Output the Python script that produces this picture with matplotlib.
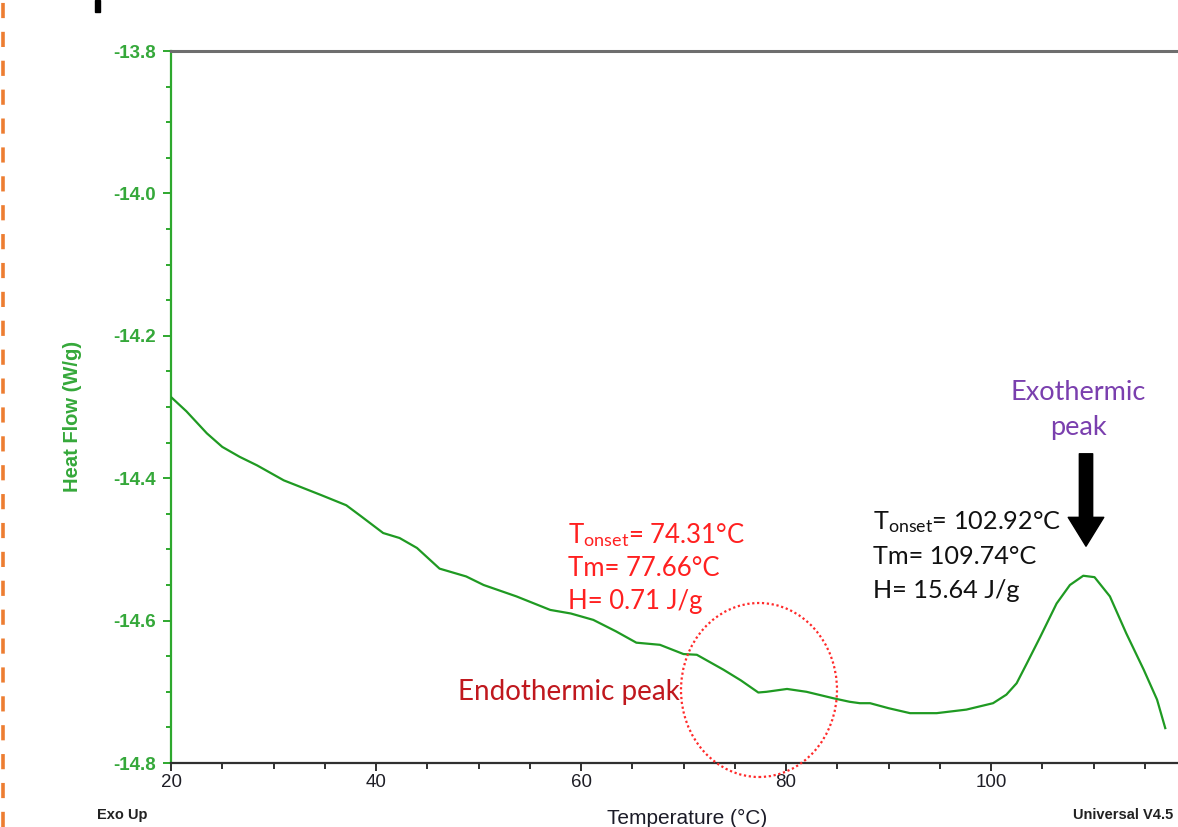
import matplotlib
matplotlib.use("Agg")
import matplotlib.pyplot as plt
from matplotlib.patches import Ellipse, Rectangle
from matplotlib.lines import Line2D
from matplotlib.ticker import MultipleLocator

# ---- data ----
temperature = [20.0, 21.5, 23.5, 25.0, 26.7, 28.4, 31.0, 34.7, 37.1, 38.5, 40.7,
               42.3, 44.0, 46.2, 48.8, 50.5, 53.7, 57.0, 59.0, 61.2, 63.4, 65.4,
               67.7, 70.0, 71.3, 73.9, 75.6, 77.3, 78.1, 80.1, 82.0, 84.6, 86.2,
               87.2, 88.2, 90.0, 92.1, 94.7, 97.6, 100.2, 101.5, 102.5, 103.5,
               104.8, 106.4, 107.7, 109.0, 110.1, 111.6, 113.2, 114.9, 116.2, 117.0]
heat_flow = [-14.286, -14.306, -14.337, -14.356, -14.370, -14.382, -14.403, -14.424,
             -14.438, -14.453, -14.477, -14.484, -14.498, -14.527, -14.538, -14.550,
             -14.566, -14.585, -14.590, -14.599, -14.615, -14.631, -14.634, -14.647,
             -14.648, -14.669, -14.684, -14.701, -14.700, -14.696, -14.700, -14.709,
             -14.714, -14.716, -14.716, -14.723, -14.730, -14.730, -14.725, -14.716,
             -14.704, -14.688, -14.660, -14.623, -14.576, -14.550, -14.537, -14.539,
             -14.566, -14.618, -14.669, -14.711, -14.751]
x_ticks = [20, 40, 60, 80, 100, 120]
y_ticks = [-13.8, -14.0, -14.2, -14.4, -14.6, -14.8]

W, H = 1178, 827
fig = plt.figure(figsize=(W / 100, H / 100), dpi=100)

GREEN_LINE = "#1f9a22"
GREEN_TXT = "#35a83a"
CAL = ["Lato", "DejaVu Sans"]
ARI = ["Liberation Sans", "DejaVu Sans"]

plt.rcParams["mathtext.fontset"] = "custom"
plt.rcParams["mathtext.rm"] = "Lato"
plt.rcParams["mathtext.it"] = "Lato:italic"

# axes: x 20 at px 171, 10.25 px/degC ; y -13.8 at 51, -14.8 at 763
x0, x1 = 20, 125
right_px = 171 + (x1 - x0) * 10.25
ax = fig.add_axes([171 / W, (H - 763) / H, (right_px - 171) / W, (763 - 51) / H])
ax.set_xlim(x0, x1)
ax.set_ylim(-14.8, -13.8)

ax.plot(temperature, heat_flow, color=GREEN_LINE, lw=1.6, zorder=3)

ax.spines["right"].set_visible(False)
ax.spines["left"].set_color("#2ea82e")
ax.spines["left"].set_linewidth(1.6)
ax.spines["bottom"].set_color("#303030")
ax.spines["bottom"].set_linewidth(1.6)
ax.spines["top"].set_color("#6e6e6e")
ax.spines["top"].set_linewidth(2.2)

ax.set_xticks(x_ticks)
ax.set_xticklabels([str(t) for t in x_ticks], fontsize=13.5, family=ARI, color="#1e1e26")
ax.set_yticks(y_ticks)
ax.set_yticklabels([f"{t:.1f}" for t in y_ticks], fontsize=13.5, family=ARI,
                   color=GREEN_TXT, fontweight="bold")
ax.xaxis.set_minor_locator(MultipleLocator(5))
ax.yaxis.set_minor_locator(MultipleLocator(0.05))
ax.tick_params(axis="x", which="major", direction="out", length=6, width=1.4,
               color="#303030", pad=2)
ax.tick_params(axis="x", which="minor", direction="out", length=4, width=1.4,
               color="#303030")
ax.tick_params(axis="y", which="major", direction="out", length=6, width=1.4,
               color="#2ea82e", pad=5)
ax.tick_params(axis="y", which="minor", direction="out", length=3.5, width=1.4,
               color="#2ea82e")

fig.text(72 / W, 1 - 416 / H, "Heat Flow (W/g)", fontsize=14.5, family=ARI,
         color=GREEN_TXT, fontweight="bold", rotation=90, ha="center", va="center")
fig.text(687 / W, 1 - 818 / H, "Temperature (°C)", fontsize=15, family=ARI,
         color="#1c1c28", ha="center", va="center")
fig.text(97 / W, 1 - 815 / H, "Exo Up", fontsize=10.5, family=ARI,
         color="#222222", fontweight="bold", ha="left", va="center")
fig.text(1073 / W, 1 - 815 / H, "Universal V4.5", fontsize=10.5, family=ARI,
         color="#222222", fontweight="bold", ha="left", va="center")


def px2data(px, py):
    return 20 + (px - 171) / 10.25, -13.8 - (py - 51) / 712


# red annotation block
red = "#ff2020"
for (py, s) in [(535, r"T$_{\mathrm{onset}}$= 74.31°C"), (568, "Tm= 77.66°C"),
                (601, "H= 0.71 J/g")]:
    tx, ty = px2data(568, py)
    ax.text(tx, ty, s, fontsize=18.5, family=CAL, color=red, ha="left",
            va="center", clip_on=False)

tx, ty = px2data(458, 692)
ax.text(tx, ty, "Endothermic peak", fontsize=20, family=CAL, color="#c0181e",
        ha="left", va="center", clip_on=False)

cx, cy = px2data(759, 690)
ax.add_patch(Ellipse((cx, cy), 156 / 10.25, 174 / 712, fill=False,
                     edgecolor="#ff2a2a", lw=1.6, linestyle=(0, (1, 1.2)),
                     clip_on=False, zorder=4))

# black annotation block
for (py, s) in [(522, r"T$_{\mathrm{onset}}$= 102.92°C"), (556, "Tm= 109.74°C"),
                (590, "H= 15.64 J/g")]:
    tx, ty = px2data(873, py)
    ax.text(tx, ty, s, fontsize=18.2, family=CAL, color="#111111", ha="left",
            va="center", clip_on=False)

purple = "#7a3fae"
for (py, s) in [(393, "Exothermic"), (428, "peak")]:
    tx, ty = px2data(1078, py)
    ax.text(tx, ty, s, fontsize=19.5, family=CAL, color=purple, ha="center",
            va="center", clip_on=False)

ax.annotate("", xy=px2data(1086, 549), xytext=px2data(1086, 451),
            arrowprops=dict(arrowstyle="simple,head_width=1.6,head_length=1.3,tail_width=0.6",
                            color="black", mutation_scale=16), annotation_clip=False)

# decorations: orange dashed line on left edge and fragment at top
fig.add_artist(Line2D([3 / W, 3 / W], [0, 1], transform=fig.transFigure,
                      color="#ed7d31", lw=2.6, linestyle=(0, (4.2, 3.8))))
fig.add_artist(Rectangle((95 / W, 1 - 12 / H), 5 / W, 12 / H,
                         transform=fig.transFigure, color="black"))

fig.savefig("out.png", dpi=100)
